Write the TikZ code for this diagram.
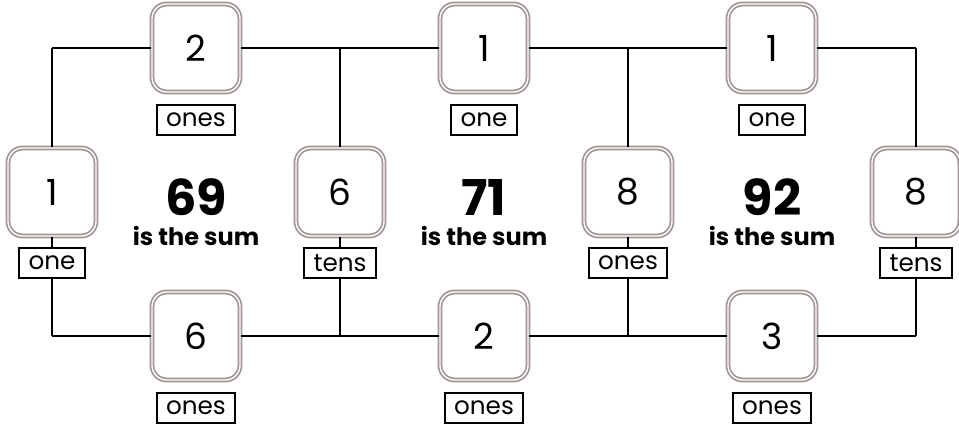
\documentclass[tikz,border=0pt]{standalone}
\usepackage{fontspec}
\setmainfont{Poppins}
\begin{document}
\begin{tikzpicture}[x=0.75pt,y=-0.75pt,
  digitbox/.style={draw={rgb,255:red,163;green,151;blue,150}, double=white, double distance=1.0pt, line width=1.35pt,
    rounded corners=11pt, minimum width=66pt, minimum height=66pt, fill=white, inner sep=0pt,
    font=\fontsize{27}{30}\selectfont},
  unitbox/.style={draw=black, line width=1.4pt, fill=white, minimum height=23pt, inner xsep=7pt, inner ysep=0pt,
    font=\fontsize{18.5}{20}\selectfont},
  sumnum/.style={anchor=base, inner sep=0pt, font=\fontsize{37}{40}\selectfont\bfseries},
  sumtxt/.style={anchor=base, inner sep=0pt, font=\fontsize{18}{20}\selectfont\bfseries},
  wire/.style={draw=black, line width=1.5pt}]
\useasboundingbox (0,0) rectangle (959,427);
% junctions
\coordinate (j1t) at (52,48);  \coordinate (j2t) at (340,48);
\coordinate (j3t) at (628,48); \coordinate (j4t) at (916,48);
\coordinate (j1b) at (52,336);  \coordinate (j2b) at (340,336);
\coordinate (j3b) at (628,336); \coordinate (j4b) at (916,336);
% top row
\node[digitbox] (t1) at (196,48) {2};
\node[digitbox] (t2) at (484,48) {1};
\node[digitbox] (t3) at (772,48) {1};
\node[unitbox] (tl1) at (196,120) {ones};
\node[unitbox] (tl2) at (484,120) {one};
\node[unitbox] (tl3) at (772,120) {one};
% middle row
\node[digitbox] (m1) at (52,192) {1};
\node[digitbox] (m2) at (340,192) {6};
\node[digitbox] (m3) at (628,192) {8};
\node[digitbox] (m4) at (916,192) {8};
\node[unitbox] (ml1) at (52,263) {one};
\node[unitbox] (ml2) at (340,263) {tens};
\node[unitbox] (ml3) at (628,263) {ones};
\node[unitbox] (ml4) at (916,263) {tens};
% bottom row
\node[digitbox] (b1) at (196,336) {6};
\node[digitbox] (b2) at (484,336) {2};
\node[digitbox] (b3) at (772,336) {3};
\node[unitbox] (bl1) at (196,408) {ones};
\node[unitbox] (bl2) at (484,408) {ones};
\node[unitbox] (bl3) at (772,408) {ones};
% sums
\node[sumnum] (s1) at (196,216) {69};
\node[sumtxt] (st1) at (196,246) {is the sum};
\node[sumnum] (s2) at (484,216) {71};
\node[sumtxt] (st2) at (484,246) {is the sum};
\node[sumnum] (s3) at (772,216) {92};
\node[sumtxt] (st3) at (772,246) {is the sum};
% wires
\draw[wire] (j1t) -- (t1) (t1) -- (j2t) -- (t2) (t2) -- (j3t) -- (t3) (t3) -- (j4t);
\draw[wire] (j1b) -- (b1) (b1) -- (j2b) -- (b2) (b2) -- (j3b) -- (b3) (b3) -- (j4b);
\foreach \i in {1,2,3,4}{
  \draw[wire] (j\i t) -- (m\i) (m\i) -- (ml\i) (ml\i) -- (j\i b);
}
\end{tikzpicture}
\end{document}
